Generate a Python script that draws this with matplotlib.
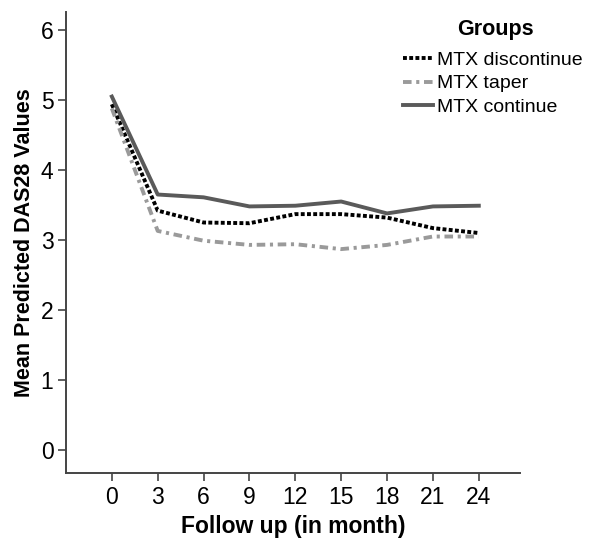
#!/usr/bin/env python3
import matplotlib
matplotlib.use("Agg")
import matplotlib.pyplot as plt

plt.rcParams['font.family'] = ['Liberation Sans', 'DejaVu Sans']

months = [0, 3, 6, 9, 12, 15, 18, 21, 24]
discontinue = [4.94, 3.42, 3.25, 3.24, 3.37, 3.37, 3.32, 3.17, 3.10]
taper = [4.88, 3.13, 2.99, 2.93, 2.94, 2.87, 2.93, 3.05, 3.05]
continue_ = [5.05, 3.65, 3.61, 3.48, 3.49, 3.55, 3.38, 3.48, 3.49]
y_ticks = [0, 1, 2, 3, 4, 5, 6]


def main():
    fig = plt.figure(figsize=(5.89, 5.40), dpi=100)
    ax = fig.add_axes([0.112, 0.124, 0.771, 0.854])

    ax.plot(months, discontinue, color="black", linestyle=(0, (1, 0.6)),
            linewidth=2.8, label="MTX discontinue")
    ax.plot(months, taper, color="#9a9a9a", linestyle=(0, (2.2, 1.2, 0.8, 1.2)),
            linewidth=2.8, label="MTX taper")
    ax.plot(months, continue_, color="#5a5a5a", linestyle="-",
            linewidth=2.8, label="MTX continue")

    ax.set_xlim(-3, 26.7)
    ax.set_ylim(-0.33, 6.26)
    ax.set_xticks(months)
    ax.set_yticks(y_ticks)
    ax.tick_params(axis="both", direction="out", length=6, width=1.2,
                   color="#444444", labelsize=16.5, pad=3)

    for side in ["top", "right"]:
        ax.spines[side].set_visible(False)
    for side in ["left", "bottom"]:
        ax.spines[side].set_color("#444444")
        ax.spines[side].set_linewidth(1.4)

    ax.set_xlabel("Follow up (in month)", fontsize=16.5, fontweight="bold", labelpad=5)
    ax.set_ylabel("Mean Predicted DAS28 Values", fontsize=15.5, fontweight="bold", labelpad=4)

    # legend title drawn apart so the gap below it matches
    fig.text(495 / 589, 1 - 29 / 540, "Groups", ha="center", va="center",
             fontsize=15.5, fontweight="bold")
    fig.legend(loc="upper left", bbox_to_anchor=(0.684, 0.905),
               frameon=False, fontsize=14, handlelength=1.55,
               handletextpad=0.2, labelspacing=0.3, borderpad=0,
               borderaxespad=0)

    plt.savefig("out.png", dpi=100)


if __name__ == "__main__":
    main()
